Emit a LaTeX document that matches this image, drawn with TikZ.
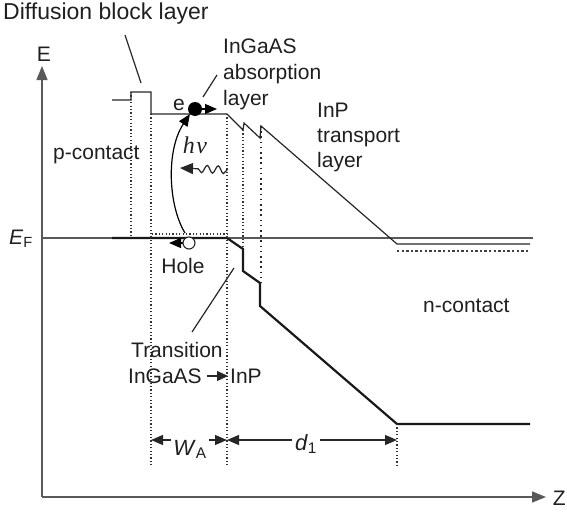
\documentclass[tikz,border=0pt]{standalone}
\usepackage{fontspec}
\setmainfont{Liberation Sans}
\newfontfamily\timesf{Liberation Serif}
\usetikzlibrary{arrows.meta,decorations.pathmorphing}
\begin{document}
\begin{tikzpicture}[x=1pt,y=-1pt,
  lbl/.style={font=\fontsize{21}{25}\selectfont, text=black!88, inner sep=0pt},
  thinl/.style={line width=1.2pt, black!85},
  band/.style={line width=2.2pt, black!90},
  dots/.style={line width=1.2pt, dash pattern=on 1.2pt off 2.2pt, black!80},
  bigdots/.style={line width=1.6pt, dash pattern=on 1.6pt off 3.6pt, black!85},
  tip/.style={-{Triangle[length=12pt,width=10pt]}},
  dimarr/.style={line width=1.2pt, black!85, -{Triangle[length=12pt,width=10pt]}},
  axis/.style={line width=1.4pt, black!65, -{Triangle[length=14pt,width=11pt]}},
]
\useasboundingbox (0,0) rectangle (567,511);

% ---- axes
\coordinate (O) at (42,497);
\coordinate (Etop) at (42,66);
\coordinate (Zend) at (546,497);
\draw[axis] (O) -- (Etop);
\draw[axis] (O) -- (Zend);
\node[lbl, anchor=base] (Elab) at (44,62) {E};
\node[lbl, anchor=base east] (Zlab) at (566,505) {Z};

% ---- Fermi level
\coordinate (EF0) at (42,238);
\coordinate (EF1) at (533,238);
\draw[line width=1.2pt, black!65] (EF0) -- (EF1);
\node[lbl, anchor=base west] (EFlab) at (9,244) {\textit{E}\textsubscript{F}};

% ---- conduction band
\coordinate (c0) at (112,100);
\coordinate (c1) at (131,100);
\coordinate (c2) at (131,92);
\coordinate (c3) at (151,92);
\coordinate (c4) at (151,114);
\coordinate (c5) at (227,114);
\coordinate (c6) at (243,130);
\coordinate (c7) at (244,123);
\coordinate (c8) at (260,138);
\coordinate (c9) at (261,126);
\coordinate (c10) at (397,244);
\coordinate (c11) at (530,244);
\draw[thinl, line join=miter] (c0) -- (c1) -- (c2) -- (c3) -- (c4) -- (c5) -- (c6) -- (c7) -- (c8) -- (c9) -- (c10) -- (c11);

% ---- valence band
\coordinate (v0) at (112,238);
\coordinate (v1) at (227,238);
\coordinate (v2) at (243,249);
\coordinate (v3) at (243,271);
\coordinate (v4) at (260,283);
\coordinate (v5) at (260,306);
\coordinate (v6) at (397,424);
\coordinate (v7) at (530,424);
\draw[band] (v0) -- (v1) -- (v2) -- (v3) -- (v4) -- (v5) -- (v6) -- (v7);

% ---- dotted guide lines
\coordinate (b131) at (131,238);
\coordinate (b151) at (151,467);
\coordinate (b227) at (227,467);
\coordinate (b243) at (243,249);
\coordinate (b261) at (261,283);
\coordinate (b397) at (397,467);
\draw[dots] (c2) -- (b131);
\draw[dots] (c4) -- (b151);
\draw[dots] (c5) -- (b227);
\draw[dots] (c6) -- (b243);
\draw[bigdots] (c9) -- (b261);
\draw[dots] (v6) -- (b397);
\coordinate (h0) at (152,234);
\coordinate (h1) at (227,234);
\draw[dots] (h0) -- (h1);
\coordinate (n0) at (397,251);
\coordinate (n1) at (529,251);
\draw[line width=1.2pt, black!75, dash pattern=on 2.4pt off 2.2pt] (n0) -- (n1);

% ---- carriers
\node[circle, fill=black, minimum size=14pt, inner sep=0pt] (el) at (195,109) {};
\coordinate (elend) at (217,109);
\draw[line width=1.2pt, tip] (el.center) -- (elend);
\node[lbl, anchor=base] (elab) at (179,110) {e};

\coordinate (hoend) at (169,243);
\draw[line width=1.2pt, tip] (188,243) -- (hoend);
\node[circle, draw=black!85, fill=white, line width=1.1pt, minimum size=12pt, inner sep=0pt] (ho) at (189,243) {};
\node[lbl, anchor=base] (holab) at (183,273) {Hole};

% photon absorption curve
\coordinate (cv0) at (185,233);
\draw[line width=1.2pt, tip] (cv0) .. controls (168,205) and (166,150) .. (el.south west);

% h nu and wavy arrow
\node[lbl, font=\fontsize{24}{25}\selectfont, anchor=base] (hnu) at (195,153) {\timesf\itshape h\kern1.5pt ν};
\coordinate (w0) at (227,170);
\coordinate (w1) at (180,168);
\draw[line width=1.2pt, black!85, decorate, decoration={snake, amplitude=3.8pt, segment length=11pt, post length=13pt},
      -{Triangle[length=13pt,width=11pt]}] (w0) -- (w1);

% ---- labels
\node[lbl, font=\fontsize{23}{25}\selectfont, anchor=base west] (diff) at (3,20) {Diffusion block layer};
\coordinate (dp0) at (125,35);
\coordinate (dp1) at (141,83);
\draw[thinl] (dp0) -- (dp1);

\node[lbl, anchor=base west] (abs1) at (223,53) {InGaAS};
\node[lbl, anchor=base west] (abs2) at (223,79) {absorption};
\node[lbl, anchor=base west] (abs3) at (223,105) {layer};
\coordinate (ap0) at (217,75);
\coordinate (ap1) at (203,97);
\draw[thinl] (ap0) -- (ap1);

\node[lbl, anchor=base west] (inp1) at (317,117) {InP};
\node[lbl, anchor=base west] (inp2) at (317,142) {transport};
\node[lbl, anchor=base west] (inp3) at (317,167) {layer};

\node[lbl, anchor=base west] (pc) at (53,159) {p-contact};
\node[lbl, anchor=base west] (nc) at (423,312) {n-contact};

\node[lbl, anchor=base west] (tr1) at (131,357) {Transition};
\node[lbl, anchor=base west] (tr2) at (128,383) {InGaAS};
\node[lbl, anchor=base west] (tr3) at (230,383) {InP};
\draw[line width=1.2pt, black!85, -{Triangle[length=11pt,width=10pt]}] ([xshift=5pt]tr2.east |- 0,376) -- ([xshift=-2pt]tr3.west |- 0,376);
\coordinate (tp0) at (192,332);
\coordinate (tp1) at (234,268);
\draw[thinl] (tp0) -- (tp1);

% ---- dimensions
\coordinate (wa0) at (151,440);
\coordinate (wa1) at (227,440);
\coordinate (d1e) at (397,440);
\node[lbl, anchor=base, font=\fontsize{22}{25}\selectfont] (wal) at (190,455) {\textit{W}\textsubscript{A}};
\node[lbl, anchor=base, font=\fontsize{22}{25}\selectfont] (d1l) at (306,450) {\textit{d}\textsubscript{1}};
\draw[dimarr] (wal.west |- wa0) ++(-2pt,0) -- (wa0);
\draw[dimarr] (wal.east |- wa0) ++(2pt,0) -- (wa1);
\draw[dimarr] (d1l.west |- wa0) ++(-3pt,0) -- (wa1);
\draw[dimarr] (d1l.east |- wa0) ++(3pt,0) -- (d1e);
\end{tikzpicture}
\end{document}
